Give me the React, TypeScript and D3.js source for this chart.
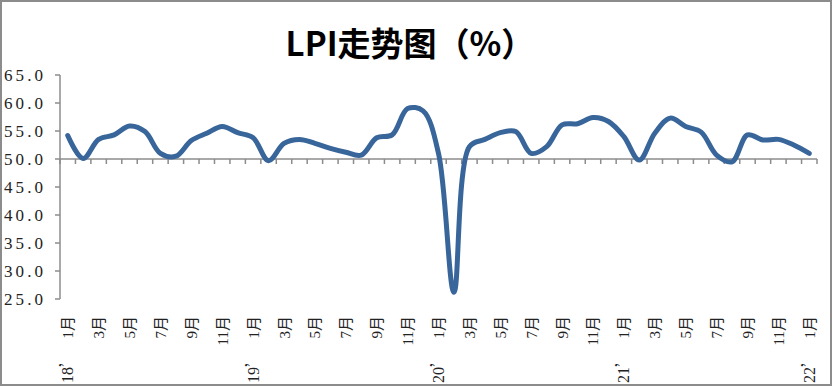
import React from "react";
import * as d3 from "d3";

const periods: string[] = [
  "18’1月","18’2月","18’3月","18’4月","18’5月","18’6月","18’7月","18’8月","18’9月","18’10月","18’11月","18’12月",
  "19’1月","19’2月","19’3月","19’4月","19’5月","19’6月","19’7月","19’8月","19’9月","19’10月","19’11月","19’12月",
  "20’1月","20’2月","20’3月","20’4月","20’5月","20’6月","20’7月","20’8月","20’9月","20’10月","20’11月","20’12月",
  "21’1月","21’2月","21’3月","21’4月","21’5月","21’6月","21’7月","21’8月","21’9月","21’10月","21’11月","21’12月",
  "22’1月",
];

const lpi: number[] = [
  54.2, 50.1, 53.5, 54.3, 55.9, 54.9, 51.0, 50.5, 53.3, 54.6, 55.8, 54.7,
  53.8, 49.7, 52.8, 53.5, 52.8, 51.9, 51.2, 50.7, 53.8, 54.3, 59.0, 58.6,
  51.0, 26.2, 52.2, 53.5, 54.7, 54.9, 51.0, 52.2, 56.1, 56.3, 57.4, 56.7,
  54.0, 49.8, 54.6, 57.3, 55.8, 54.8, 50.7, 49.5, 54.3, 53.4, 53.5, 52.5,
  51.0,
];

const yTicks: number[] = [25, 30, 35, 40, 45, 50, 55, 60, 65];

const title = "LPI走势图（%）";

export default function App() {
  const W = 832;
  const H = 386;
  const left = 60;
  const right = 817;
  const top = 75;
  const bottom = 299;

  const x = d3
    .scaleBand<string>()
    .domain(periods)
    .range([left, right])
    .padding(0);
  const y = d3.scaleLinear().domain([25, 65]).range([bottom, top]);

  const cx = (p: string) => (x(p) as number) + x.bandwidth() / 2;

  const line = d3
    .line<number>()
    .x((_, i) => cx(periods[i]))
    .y((d) => y(d))
    .curve(d3.curveCatmullRom.alpha(0.5));

  const axisY = y(50);
  const grey = "#8c8c8c";
  const labelFont = "'Liberation Serif', 'Noto Sans CJK SC', serif";

  return (
    <svg
      width={W}
      height={H}
      style={{ position: "fixed", left: 0, top: 0, background: "#fff" }}
    >
      <rect x={1} y={1} width={W - 2} height={H - 2} fill="#fff" stroke={grey} strokeWidth={2} />
      <text
        x={410}
        y={56}
        textAnchor="middle"
        fontFamily="'Noto Sans CJK SC', sans-serif"
        fontWeight="bold"
        fontSize={33}
        fill="#000"
      >
        {title}
      </text>

      {/* y axis */}
      <line x1={left} x2={left} y1={top} y2={bottom} stroke={grey} strokeWidth={1.5} />
      {yTicks.map((t) => (
        <g key={t}>
          <line x1={left - 5} x2={left} y1={y(t)} y2={y(t)} stroke={grey} strokeWidth={1.5} />
          <text
            x={43}
            y={y(t) + 6}
            textAnchor="end"
            fontFamily={labelFont}
            fontSize={17}
            fill="#222"
            textLength={39}
            lengthAdjust="spacing"
          >
            {t.toFixed(1)}
          </text>
        </g>
      ))}

      {/* x axis at 50 */}
      <line x1={left} x2={right} y1={axisY} y2={axisY} stroke={grey} strokeWidth={1.5} />
      {periods.map((p) => (
        <line
          key={"t" + p}
          x1={x(p) as number}
          x2={x(p) as number}
          y1={axisY}
          y2={axisY + 5}
          stroke={grey}
          strokeWidth={1.5}
        />
      ))}
      <line x1={right} x2={right} y1={axisY} y2={axisY + 5} stroke={grey} strokeWidth={1.5} />

      {/* category labels */}
      {periods.map((p, i) => {
        if (i % 2 !== 0) return null;
        const [yr, mo] = p.split("’");
        const px = cx(p);
        return (
          <g key={"l" + p}>
            <text
              transform={`translate(${px + 5.5},316) rotate(-90)`}
              textAnchor="end"
              fontFamily={labelFont}
              fontSize={15}
              fill="#222"
            >
              {mo}
            </text>
            {mo === "1月" && (
              <text
                transform={`translate(${px + 5.5},383) rotate(-90)`}
                textAnchor="start"
                fontFamily={labelFont}
                fontSize={16}
                fill="#222"
              >
                {yr}
                <tspan fontFamily="'Noto Sans CJK SC', sans-serif">’</tspan>
              </text>
            )}
          </g>
        );
      })}

      <path
        d={line(lpi) || ""}
        fill="none"
        stroke="#38659a"
        strokeWidth={5}
        strokeLinejoin="round"
        strokeLinecap="round"
      />
    </svg>
  );
}
